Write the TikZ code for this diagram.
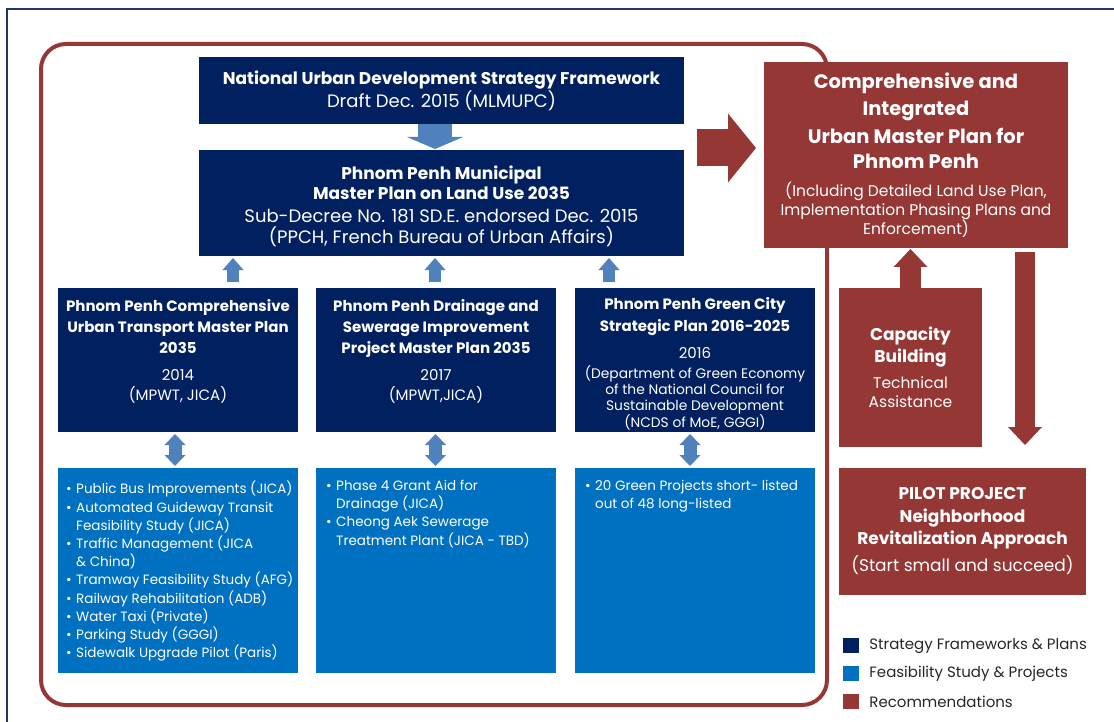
\documentclass[tikz,border=0pt]{standalone}
\usepackage{fontspec}
\setmainfont{Poppins}
\usetikzlibrary{arrows.meta, positioning}

\definecolor{navy}{HTML}{002060}
\definecolor{projblue}{HTML}{0070C0}
\definecolor{arrblue}{HTML}{4F81BD}
\definecolor{recred}{HTML}{953735}
\definecolor{framecol}{HTML}{1F3864}

\newcommand{\lbul}{\makebox[10pt][l]{\textbullet}}
\newcommand{\lind}{\hspace*{10pt}}

\tikzset{
  box/.style={inner sep=0pt, outer sep=0pt, text=white, align=center},
  navybox/.style={box, fill=navy},
  projbox/.style={box, fill=projblue},
  recbox/.style={box, fill=recred},
  boxtxt/.style={inner sep=0pt, text=white, align=center},
  listtxt/.style={inner sep=0pt, text=white, align=left, anchor=north west,
    font=\fontsize{13.5}{18.2}\selectfont},
  legkey/.style={inner sep=0pt, minimum width=16pt, minimum height=15pt},
  legtxt/.style={inner sep=0pt, text=black!85, font=\fontsize{15}{18}\selectfont},
  blk/.style n args={3}{line width=#1,
    -{Triangle[width=#2, length=#3, line width=0pt]}},
  dblk/.style n args={3}{line width=#1,
    {Triangle[width=#2, length=#3, line width=0pt]}-{Triangle[width=#2, length=#3, line width=0pt]}},
}

\begin{document}
\begin{tikzpicture}[x=1pt, y=-1pt]
  \useasboundingbox (0,0) rectangle (1114,722);
  % page frame and group outline
  \draw[framecol, line width=1.5pt] (7,722) -- (7,9) -- (1114,9);
  \draw[recred, line width=4pt, rounded corners=25pt] (41,44) rectangle (827,705);

  % strategy frameworks
  \node[navybox, minimum width=485pt, minimum height=67pt,
        font=\fontsize{18}{23}\selectfont] (nudsf) at (441.5,90.5)
        {{\fontsize{17}{23}\selectfont\bfseries National Urban Development Strategy Framework}\\
         Draft Dec. 2015 (MLMUPC)};
  \node[navybox, minimum width=485pt, minimum height=106pt] (mp) at (441.5,203) {};
  \node[boxtxt, font=\fontsize{18}{20.5}\selectfont] (mptxt) at ([yshift=-3.5pt]mp.center)
        {{\fontsize{17}{20.5}\selectfont\bfseries Phnom Penh Municipal}\\
         {\fontsize{17}{20.5}\selectfont\bfseries Master Plan on Land Use 2035}\\[2.5pt]
         Sub-Decree No. 181 SD.E. endorsed Dec. 2015\\[0.5pt]
         (PPCH, French Bureau of Urban Affairs)};

  % sector master plans
  \node[navybox, minimum width=240pt, minimum height=144pt] (cutm) at (178,360) {};
  \node[navybox, minimum width=240pt, minimum height=144pt] (dsi) at (436,360) {};
  \node[navybox, minimum width=240pt, minimum height=144pt] (gcs) at (695,360) {};
  \node[boxtxt, anchor=north, font=\fontsize{15}{21}\selectfont] (cutmtxt)
        at ([yshift=-11pt]cutm.north)
        {\textbf{Phnom Penh Comprehensive}\\\textbf{Urban Transport Master Plan}\\\textbf{2035}\\[6pt]
         2014\\[-1pt](MPWT, JICA)};
  \node[boxtxt, anchor=north, font=\fontsize{15}{21}\selectfont] (dsitxt)
        at ([yshift=-11pt]dsi.north)
        {\textbf{Phnom Penh Drainage and}\\\textbf{Sewerage Improvement}\\\textbf{Project Master Plan 2035}\\[6pt]
         2017\\[-1pt](MPWT,JICA)};
  \node[boxtxt, anchor=north, font=\fontsize{13.8}{16}\selectfont] (gcstxt)
        at ([yshift=-9pt]gcs.north)
        {{\fontsize{15}{16}\selectfont\bfseries Phnom Penh Green City}\\[6pt]
         {\fontsize{15}{16}\selectfont\bfseries Strategic Plan 2016-2025}\\[11pt]
         {\fontsize{15}{16}\selectfont 2016}\\[4pt]
         (Department of Green Economy\\of the National Council for\\
         Sustainable Development\\(NCDS of MoE, GGGI)};

  % projects
  \node[projbox, minimum width=240pt, minimum height=205pt] (bus) at (178,570.5) {};
  \node[projbox, minimum width=240pt, minimum height=205pt] (drn) at (436,570.5) {};
  \node[projbox, minimum width=240pt, minimum height=205pt] (grn) at (695,570.5) {};
  \node[listtxt] (bustxt) at ([xshift=8pt, yshift=-13pt]bus.north west)
        {\lbul Public Bus Improvements (JICA)\\
         \lbul Automated Guideway Transit\\
         \lind Feasibility Study (JICA)\\
         \lbul Traffic Management (JICA\\
         \lind \& China)\\
         \lbul Tramway Feasibility Study (AFG)\\
         \lbul Railway Rehabilitation (ADB)\\
         \lbul Water Taxi (Private)\\
         \lbul Parking Study (GGGI)\\
         \lbul Sidewalk Upgrade Pilot (Paris)};
  \node[listtxt] (drntxt) at ([xshift=10pt, yshift=-12pt]drn.north west)
        {\lbul Phase 4 Grant Aid for\\
         \lind Drainage (JICA)\\
         \lbul Cheong Aek Sewerage\\
         \lind Treatment Plant (JICA - TBD)};
  \node[listtxt] (grntxt) at ([xshift=10pt, yshift=-12pt]grn.north west)
        {\lbul 20 Green Projects short- listed\\
         \lind out of 48 long-listed};

  % recommendations
  \node[recbox, minimum width=304pt, minimum height=186pt,
        font=\fontsize{15.5}{19}\selectfont] (comp) at (916,155)
        {{\fontsize{19.5}{19}\selectfont\bfseries Comprehensive and}\\[6pt]
         {\fontsize{19.5}{19}\selectfont\bfseries Integrated}\\[6pt]
         {\fontsize{19.5}{19}\selectfont\bfseries Urban Master Plan for}\\[6pt]
         {\fontsize{19.5}{19}\selectfont\bfseries Phnom Penh}\\[9pt]
         (Including Detailed Land Use Plan,\\Implementation Phasing Plans and\\Enforcement)};
  \node[recbox, minimum width=143pt, minimum height=159pt,
        font=\fontsize{15.5}{19}\selectfont] (cap) at (910.5,367.5)
        {{\fontsize{17}{19}\selectfont\bfseries Capacity}\\[3pt]
         {\fontsize{17}{19}\selectfont\bfseries Building}\\[7pt]
         Technical\\Assistance};
  \node[recbox, minimum width=247pt, minimum height=127pt,
        font=\fontsize{17}{22.5}\selectfont] (pilot) at (962.5,531.5)
        {\textbf{PILOT PROJECT}\\\textbf{Neighborhood}\\\textbf{Revitalization Approach}\\[4.5pt]
         (Start small and succeed)};

  % block arrows
  \draw[arrblue, blk={34pt}{56pt}{12pt}, shorten >=1pt]
    ([xshift=-6.5pt]nudsf.south) -- ([xshift=-6.5pt]mp.north);
  \coordinate (upa) at ([xshift=55pt]cutm.north);
  \coordinate (upb) at ([xshift=-1pt]dsi.north);
  \coordinate (upc) at ([xshift=-86pt]gcs.north);
  \foreach \c in {upa, upb, upc}
    \draw[arrblue, blk={12pt}{21pt}{12pt}, shorten <=6pt, shorten >=2pt]
      (\c) -- (\c |- mp.south);
  \draw[arrblue, dblk={13pt}{21pt}{11pt}, shorten <=2pt, shorten >=2pt]
    ([xshift=-3pt]cutm.south) -- ([xshift=-3pt]bus.north);
  \draw[arrblue, dblk={13pt}{21pt}{11pt}, shorten <=2pt, shorten >=2pt]
    ([xshift=-0.5pt]dsi.south) -- ([xshift=-0.5pt]drn.north);
  \draw[arrblue, dblk={13pt}{21pt}{11pt}, shorten <=2pt, shorten >=2pt]
    ([xshift=-5pt]gcs.south) -- ([xshift=-5pt]grn.north);

  \coordinate (rin) at (697,148);
  \draw[recred, blk={37pt}{69pt}{28pt}, shorten >=8pt] (rin) -- (rin -| comp.west);
  \draw[recred, blk={21pt}{34pt}{18pt}, shorten >=1pt] (cap.north) -- (cap.north |- comp.south);
  \coordinate (rdn) at ([xshift=109pt]comp.south);
  \draw[recred, blk={20pt}{34pt}{18pt}, shorten <=4pt, shorten >=23pt] (rdn) -- (rdn |- pilot.north);

  % legend
  \node[legkey, fill=navy] (k1) at (851,645.5) {};
  \node[legkey, fill=projblue] (k2) at (851,673.5) {};
  \node[legkey, fill=recred] (k3) at (851,701.5) {};
  \node[legtxt, right=10pt of k1] (l1) {Strategy Frameworks \& Plans};
  \node[legtxt, right=10pt of k2] (l2) {Feasibility Study \& Projects};
  \node[legtxt, right=10pt of k3] (l3) {Recommendations};
\end{tikzpicture}
\end{document}
